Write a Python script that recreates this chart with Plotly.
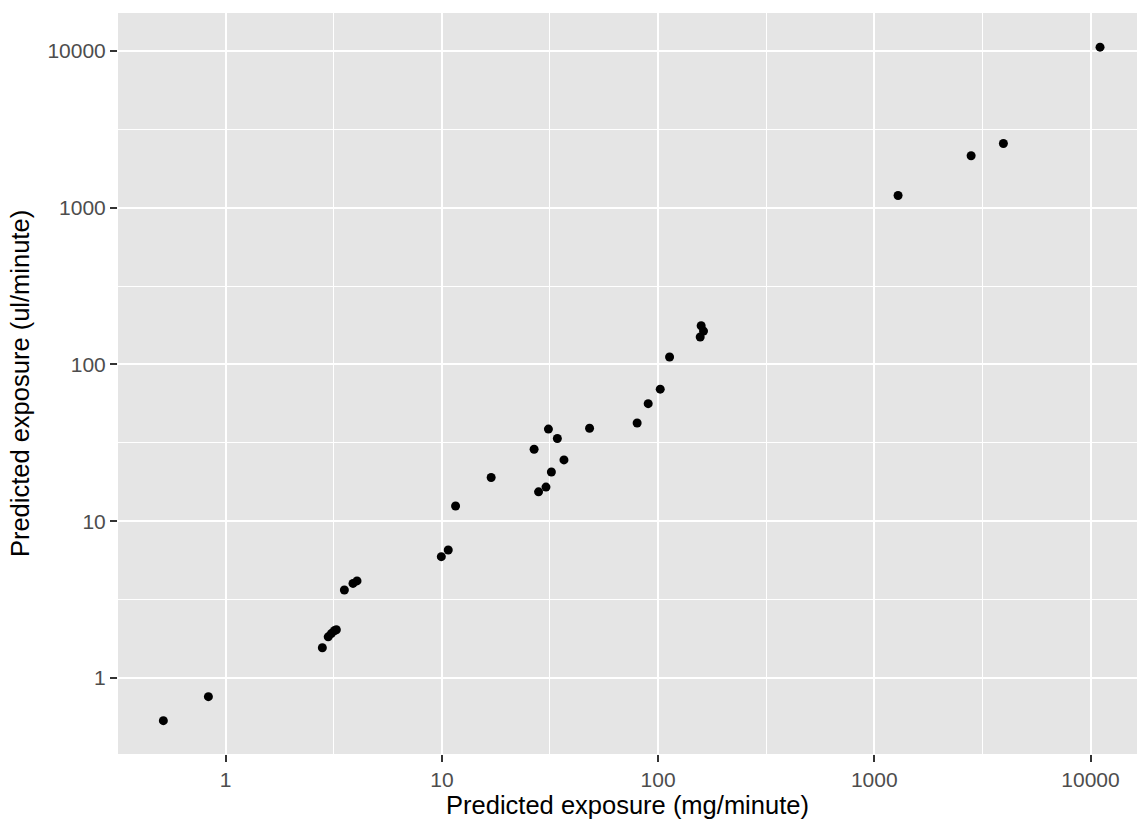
import plotly.graph_objects as go

# Predicted exposure values
exposure_mg_per_min = [
    0.515, 0.832, 2.80, 2.98, 3.08, 3.18, 3.25, 3.54, 3.88, 4.05,
    9.94, 10.7, 11.57, 16.9, 26.7, 28.0, 30.3, 31.1, 32.1, 34.2,
    36.7, 48.2, 80.0, 90.0, 102.3, 113.0, 156.6, 158.2, 162.2,
    1288, 2804, 3954, 11066,
]
exposure_ul_per_min = [
    0.534, 0.760, 1.56, 1.83, 1.92, 2.00, 2.03, 3.64, 4.01, 4.16,
    5.94, 6.55, 12.5, 19.0, 28.8, 15.4, 16.5, 38.7, 20.6, 33.7,
    24.6, 39.2, 42.3, 56.2, 69.6, 111.5, 149.6, 176.6, 163.3,
    1196, 2143, 2566, 10570,
]

major_ticks = [1, 10, 100, 1000, 10000]
major_tick_text = ["1", "10", "100", "1000", "10000"]
minor_ticks = [10 ** 0.5, 10 ** 1.5, 10 ** 2.5, 10 ** 3.5]

x_title = "Predicted exposure (mg/minute)"
y_title = "Predicted exposure (ul/minute)"

fig = go.Figure()
fig.add_trace(go.Scatter(
    x=exposure_mg_per_min,
    y=exposure_ul_per_min,
    mode="markers",
    marker=dict(color="black", size=9, line=dict(width=0)),
    showlegend=False,
    cliponaxis=False,
))

font_family = "Liberation Sans, Arial, sans-serif"

axis_common = dict(
    type="log",
    automargin=False,
    tickmode="array",
    tickvals=major_ticks,
    ticktext=major_tick_text,
    showgrid=True,
    gridcolor="white",
    gridwidth=2,
    zeroline=False,
    showline=False,
    ticks="outside",
    ticklen=7,
    tickwidth=2,
    tickcolor="#333333",
    tickfont=dict(family=font_family, size=21, color="#4D4D4D"),
    minor=dict(
        tickmode="array",
        tickvals=minor_ticks,
        showgrid=True,
        gridcolor="white",
        gridwidth=1,
        ticks="",
    ),
)

fig.update_xaxes(
    **axis_common,
    range=[-0.498, 4.215],
    title=dict(text=x_title, font=dict(family=font_family, size=25.5, color="black"), standoff=8),
)
fig.update_yaxes(
    **axis_common,
    range=[-0.485, 4.242],
    title=dict(text=y_title, font=dict(family=font_family, size=25.5, color="black"), standoff=10),
)

fig.update_layout(
    width=1137,
    height=819,
    margin=dict(l=118, r=0, t=13, b=65, pad=0),
    paper_bgcolor="white",
    plot_bgcolor="#E5E5E5",
    font=dict(family=font_family),
)

fig.write_html(
    "out.html",
    config={"displayModeBar": False},
    post_script="document.body.style.margin='0';document.body.style.overflow='hidden';",
)
